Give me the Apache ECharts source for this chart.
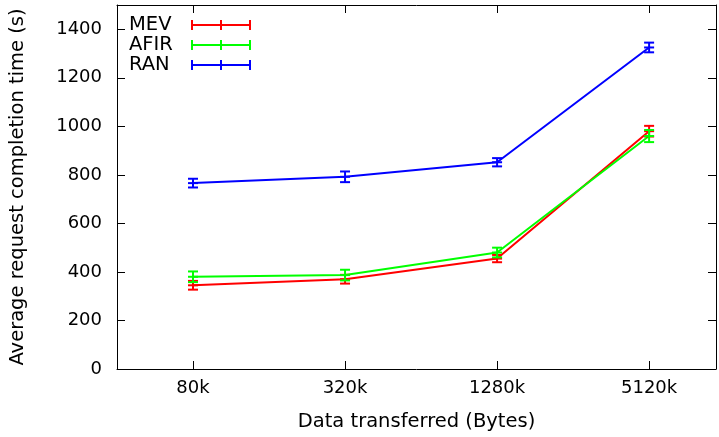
<!DOCTYPE html>
<html>
<head>
<meta charset="utf-8">
<script src="https://cdn.jsdelivr.net/npm/echarts@6/dist/echarts.min.js"></script>
<style>html,body{margin:0;padding:0;background:#fff;}#c{width:719px;height:437px;}</style>
</head>
<body>
<div id="c"></div>
<script>
const categories = ['80k', '320k', '1280k', '5120k'];
const yTicks = [0, 200, 400, 600, 800, 1000, 1200, 1400];
const mevValues = [345, 370, 455, 980];
const mevErrors = [18, 18, 15, 22];
const afirValues = [380, 387, 480, 960];
const afirErrors = [22, 22, 20, 25];
const ranValues = [766, 792, 852, 1325];
const ranErrors = [18, 22, 17, 20];

const FONT = 'DejaVu Sans';
const seriesDefs = [
  {name: 'MEV', color: '#ff0000', values: mevValues, errors: mevErrors},
  {name: 'AFIR', color: '#00ff00', values: afirValues, errors: afirErrors},
  {name: 'RAN', color: '#0000ff', values: ranValues, errors: ranErrors}
];
const xPos = categories.map((c, i) => i + 1);

function errRender(color) {
  return function (params, api) {
    const x = api.value(0), y = api.value(1), e = api.value(2);
    const c = api.coord([x, y]);
    const lo = api.coord([x, y - e]);
    const hi = api.coord([x, y + e]);
    const hw = 5;
    const st = {stroke: color, lineWidth: 2};
    return {
      type: 'group',
      children: [
        {type: 'line', shape: {x1: c[0], y1: lo[1], x2: c[0], y2: hi[1]}, style: st},
        {type: 'line', shape: {x1: c[0] - hw, y1: lo[1], x2: c[0] + hw, y2: lo[1]}, style: st},
        {type: 'line', shape: {x1: c[0] - hw, y1: hi[1], x2: c[0] + hw, y2: hi[1]}, style: st},
        {type: 'line', shape: {x1: c[0] - hw, y1: c[1], x2: c[0] + hw, y2: c[1]}, style: st}
      ]
    };
  };
}

const series = [];
seriesDefs.forEach(d => {
  series.push({
    name: d.name, type: 'line', symbol: 'none',
    data: d.values.map((v, i) => [xPos[i], v]),
    lineStyle: {color: d.color, width: 2},
    itemStyle: {color: d.color},
    z: 3
  });
});
seriesDefs.forEach(d => {
  series.push({
    name: d.name, type: 'custom',
    data: d.values.map((v, i) => [xPos[i], v, d.errors[i]]),
    encode: {x: 0, y: 1},
    renderItem: errRender(d.color),
    itemStyle: {color: d.color},
    z: 4
  });
});

const iconPath = 'path://M0,4H60V6H0Z M0,0H2V10H0Z M58,0H60V10H58Z M29,0H31V10H29Z';

const axisLineStyle = {color: '#000', width: 1};
const option = {
  animation: false,
  backgroundColor: '#fff',
  grid: {left: 116, right: 3, top: 5, bottom: 68},
  legend: {
    orient: 'vertical', left: 129, top: 15, align: 'right', padding: 0,
    icon: iconPath, itemWidth: 60, itemHeight: 10, itemGap: 0,
    formatter: '{a|{name}}',
    textStyle: {fontFamily: FONT, fontSize: 19.5, color: '#000', lineHeight: 19,
      rich: {a: {width: 57, align: 'left', fontFamily: FONT, fontSize: 19.5, color: '#000', lineHeight: 19}}},
    data: seriesDefs.map(d => ({name: d.name, itemStyle: {color: d.color}}))
  },
  xAxis: [{
    type: 'value', min: 0.5, max: 4.44, position: 'bottom',
    name: 'Data transferred (Bytes)', nameLocation: 'middle', nameGap: 43,
    nameTextStyle: {fontFamily: FONT, fontSize: 19.5, color: '#000'},
    axisLine: {show: true, onZero: false, lineStyle: axisLineStyle},
    axisTick: {show: true, inside: true, length: 8, customValues: xPos, lineStyle: axisLineStyle},
    axisLabel: {customValues: xPos, margin: 10, fontFamily: FONT, fontSize: 18, color: '#000',
      formatter: v => categories[Math.round(v) - 1] || ''},
    splitLine: {show: false}
  }, {
    type: 'value', min: 0.5, max: 4.44, position: 'top',
    axisLine: {show: true, onZero: false, lineStyle: axisLineStyle},
    axisTick: {show: true, inside: true, length: 8, customValues: xPos, lineStyle: axisLineStyle},
    axisLabel: {show: false},
    splitLine: {show: false}
  }],
  yAxis: [{
    type: 'value', min: 0, max: 1500, interval: 200, position: 'left',
    name: 'Average request completion time (s)', nameLocation: 'middle', nameGap: 89,
    nameTextStyle: {fontFamily: FONT, fontSize: 19.5, color: '#000'},
    axisLine: {show: true, onZero: false, lineStyle: axisLineStyle},
    axisTick: {show: true, inside: true, length: 8, customValues: yTicks, lineStyle: axisLineStyle},
    axisLabel: {customValues: yTicks, margin: 15, fontFamily: FONT, fontSize: 18, color: '#000',
      padding: [4, 0, 0, 0], formatter: v => String(v)},
    splitLine: {show: false}
  }, {
    type: 'value', min: 0, max: 1500, interval: 200, position: 'right',
    axisLine: {show: true, onZero: false, lineStyle: axisLineStyle},
    axisTick: {show: true, inside: true, length: 8, customValues: yTicks, lineStyle: axisLineStyle},
    axisLabel: {show: false},
    splitLine: {show: false}
  }],
  series: series
};
const chart = echarts.init(document.getElementById('c'), null, {renderer: 'canvas'});
chart.setOption(option);
</script>
</body>
</html>
